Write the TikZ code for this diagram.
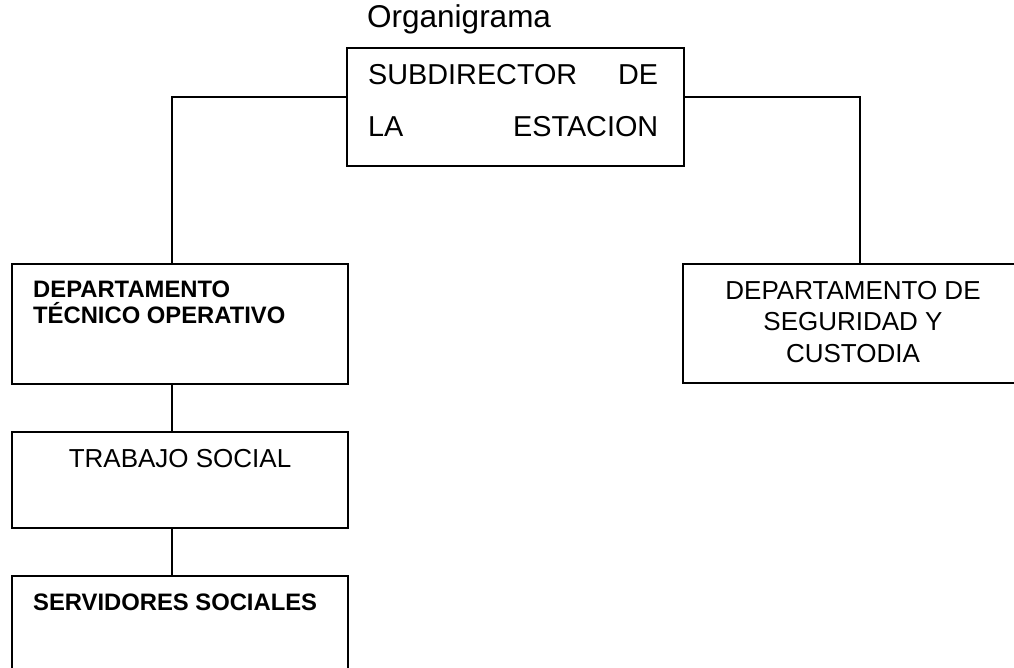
\documentclass[tikz,border=0pt]{standalone}
\usepackage{fontspec}
\setmainfont{Liberation Sans}
\begin{document}
\begin{tikzpicture}[x=1pt,y=-1pt,
  box/.style={draw,line width=1.3pt,rectangle,inner sep=0pt},
  conn/.style={line width=1.3pt},
  txt/.style={inner sep=0pt,font=\fontsize{26}{31.5}\selectfont},
  btxt/.style={inner sep=0pt,font=\fontsize{23.8}{26}\selectfont\bfseries}]
\useasboundingbox (0,0) rectangle (1014,668);
\begin{scope}
\clip (0,0) rectangle (1014,668);
\node[box,minimum width=337pt,minimum height=118pt] (top) at (515.5,107) {};
\node[box,minimum width=336pt,minimum height=120pt] (dto) at (180,324) {};
\node[box,minimum width=347pt,minimum height=119pt] (dsc) at (856.5,323.5) {};
\node[box,minimum width=336pt,minimum height=96pt] (ts) at (180,480) {};
\node[box,minimum width=336pt,minimum height=124pt] (ss) at (180,638) {};
\end{scope}
\node[inner sep=0pt,anchor=base west,font=\fontsize{31.5}{36}\selectfont] (title) at (367,28) {Organigrama};
\node[txt,anchor=base west,font=\fontsize{28.8}{34}\selectfont] (t1) at (368,85) {\makebox[290pt][s]{SUBDIRECTOR\hfill DE}};
\node[txt,anchor=base west,font=\fontsize{28.8}{34}\selectfont] (t2) at (368,137) {\makebox[290pt][s]{LA\hfill ESTACION}};
\node[btxt,anchor=base west,align=left] (dtot) at (33,323) {DEPARTAMENTO\\TÉCNICO OPERATIVO};
\node[txt,anchor=base,align=center] (dsct) at (853,362) {DEPARTAMENTO DE\\SEGURIDAD Y\\CUSTODIA};
\node[txt,anchor=base] (tst) at (180,467) {TRABAJO SOCIAL};
\node[btxt,anchor=base west] (sst) at (33,610) {SERVIDORES SOCIALES};
\draw[conn] ([yshift=10pt]top.west) -| ([xshift=-8pt]dto.north);
\draw[conn] ([yshift=10pt]top.east) -| ([xshift=3.5pt]dsc.north);
\draw[conn] ([xshift=-8pt]dto.south) -- ([xshift=-8pt]ts.north);
\draw[conn] ([xshift=-8pt]ts.south) -- ([xshift=-8pt]ss.north);
\end{tikzpicture}
\end{document}
